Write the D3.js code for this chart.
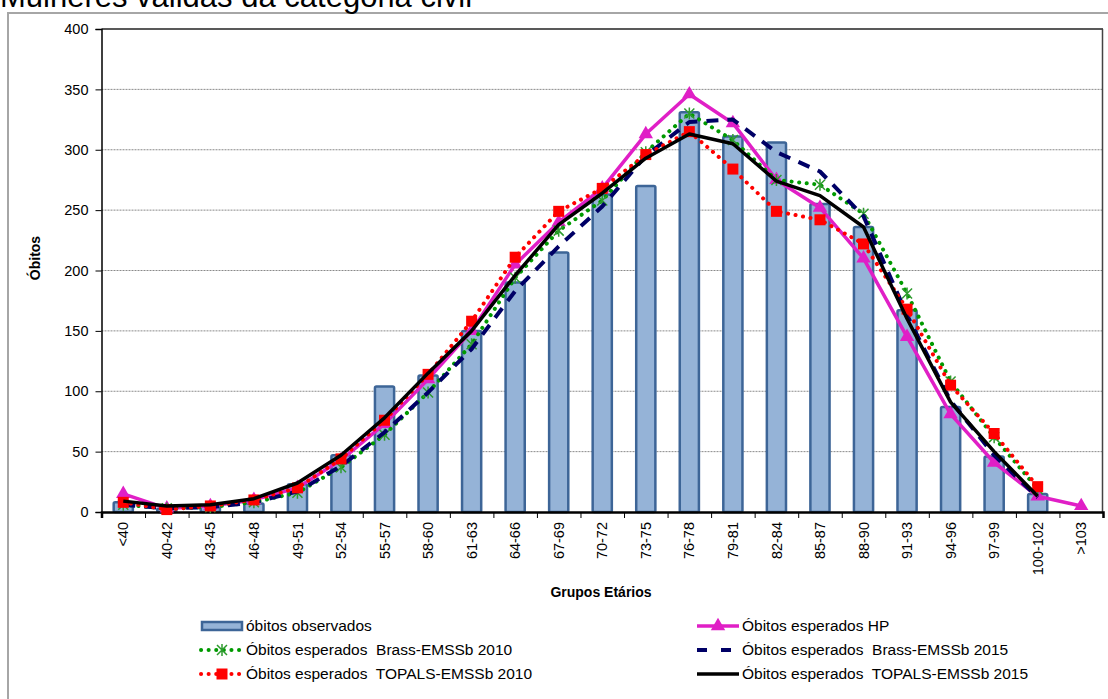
<!DOCTYPE html>
<html lang="pt">
<head>
  <meta charset="UTF-8">
  <title>Óbitos por grupos etários</title>
  <style>
    body { margin: 0; background: #fff; }
    svg { display: block; font-family: "Liberation Sans", Arial, sans-serif; }
    .grid line { stroke: #8a8a8a; stroke-width: 1; stroke-dasharray: 2,1; }
    .axis text { font-size: 14.5px; fill: #000; }
    .axis path, .axis line { stroke: #000; }
    .leg text { font-size: 15.5px; white-space: pre; }
  </style>
</head>
<body>
  <svg width="1108" height="699"></svg>

  <script src="https://d3js.org/d3.v7.min.js"></script>
  <script>
    const categories = ["<40", "40-42", "43-45", "46-48", "49-51", "52-54", "55-57", "58-60",
      "61-63", "64-66", "67-69", "70-72", "73-75", "76-78", "79-81", "82-84", "85-87",
      "88-90", "91-93", "94-96", "97-99", "100-102", ">103"];

    const observados = [8, 3, 5, 7, 23, 47, 104, 113, 150, 190, 215, 263, 270, 331, 311, 306,
      255, 236, 167, 87, 46, 15, null];
    const hp = [15, 3, 5, 10, 20, 43, 73, 110, 150, 205, 240, 268, 313, 346, 322, 275,
      252, 210, 145, 81, 41, 13, 5];
    const brass2010 = [6, 3, 4, 8, 16, 37, 64, 99, 139, 194, 233, 258, 298, 330, 308, 275,
      271, 247, 181, 108, 62, 19];
    const brass2015 = [6, 3, 4, 8, 17, 38, 66, 99, 135, 183, 220, 253, 295, 323, 325, 298,
      282, 245, 163, 92, 47, 12];
    const topals2010 = [8, 2, 5, 10, 20, 44, 76, 114, 158, 211, 249, 268, 296, 315, 284, 249,
      242, 222, 168, 105, 65, 21];
    const topals2015 = [9, 5, 6, 11, 24, 47, 78, 115, 150, 196, 238, 264, 293, 313, 305, 274,
      262, 236, 160, 91, 50, 13];

    const yTicks = [0, 50, 100, 150, 200, 250, 300, 350, 400];

    const svg = d3.select("svg");
    const pLeft = 101.5, pRight = 1103, pTop = 29, pBottom = 512;

    const x = d3.scaleBand().domain(categories).range([pLeft, pRight]);
    const y = d3.scaleLinear().domain([0, 400]).range([pBottom, pTop]);

    // outer frame and title (title is cut by the top edge, as in the source)
    svg.append("rect")
      .attr("x", 8).attr("y", 13).attr("width", 1200).attr("height", 800)
      .attr("fill", "none").attr("stroke", "#a6a6a6").attr("stroke-width", 2);

    svg.append("text")
      .attr("x", 0).attr("y", 7)
      .attr("font-size", 31)
      .text("Mulheres válidas da categoria civil");

    // gridlines
    svg.append("g").attr("class", "grid")
      .selectAll("line")
      .data(yTicks.filter(d => d > 0 && d < 400))
      .enter().append("line")
      .attr("x1", pLeft).attr("x2", pRight)
      .attr("y1", d => y(d)).attr("y2", d => y(d));

    svg.append("line")
      .attr("x1", pLeft).attr("x2", pRight).attr("y1", pTop).attr("y2", pTop)
      .attr("stroke", "#222").attr("stroke-width", 1.5);
    svg.append("line")
      .attr("x1", pRight - 0.5).attr("x2", pRight - 0.5).attr("y1", pTop).attr("y2", pBottom)
      .attr("stroke", "#444").attr("stroke-width", 1.5);

    // bars
    const bw = x.bandwidth() * 0.44;
    svg.append("g")
      .selectAll("rect")
      .data(categories.map((c, i) => ({ c, v: observados[i] })).filter(d => d.v != null))
      .enter().append("rect")
      .attr("x", d => x(d.c) + x.bandwidth() / 2 - bw / 2)
      .attr("y", d => y(d.v))
      .attr("width", bw)
      .attr("height", d => y(0) - y(d.v))
      .attr("rx", 1.5)
      .attr("fill", "#95b3d7")
      .attr("stroke", "#3d6597")
      .attr("stroke-width", 2.5);

    // axes
    svg.append("g")
      .attr("class", "axis")
      .attr("transform", `translate(${pLeft},0)`)
      .call(d3.axisLeft(y).tickValues(yTicks).tickSize(6).tickPadding(7))
      .call(g => g.select(".domain").attr("stroke-width", 1.5));

    const bounds = d3.scaleLinear().domain([0, categories.length]).range([pLeft, pRight]);
    svg.append("g")
      .attr("class", "axis")
      .attr("transform", `translate(0,${pBottom})`)
      .call(d3.axisBottom(bounds).tickValues(d3.range(0, categories.length + 1)).tickSize(6).tickFormat(""))
      .call(g => g.select(".domain").attr("stroke-width", 2.5));

    svg.append("g")
      .attr("class", "axis")
      .attr("transform", `translate(0,${pBottom})`)
      .call(d3.axisBottom(x).tickSize(0))
      .call(g => g.select(".domain").remove())
      .selectAll("text")
      .attr("transform", "rotate(-90)")
      .attr("text-anchor", "end")
      .attr("x", -10)
      .attr("y", 0)
      .attr("dy", "0.35em");

    svg.append("text")
      .attr("transform", "translate(40,258) rotate(-90)")
      .attr("text-anchor", "middle")
      .attr("font-size", 14).attr("font-weight", "bold")
      .text("Óbitos");

    svg.append("text")
      .attr("x", 601).attr("y", 597)
      .attr("text-anchor", "middle")
      .attr("font-size", 14).attr("font-weight", "bold")
      .text("Grupos Etários");

    // series lines
    const cx = c => x(c) + x.bandwidth() / 2;
    const line = d3.line().defined(d => d.v != null).x(d => cx(d.c)).y(d => y(d.v));
    const pts = vals => vals.map((v, i) => ({ c: categories[i], v }));

    const tri = d3.symbol().type(d3.symbolTriangle).size(90);
    const sq = "M-5.5,-5.5H5.5V5.5H-5.5Z";
    const star = "M0,-6V6M-5,-5L5,5M-5,5L5,-5";

    const series = [
      { name: "Óbitos esperados HP", vals: hp, color: "#e01fc6", width: 3.5, dash: null, marker: "tri" },
      { name: "Óbitos esperados  Brass-EMSSb 2010", vals: brass2010, color: "#009a00", width: 4, dash: "0.1,7.5", marker: "star" },
      { name: "Óbitos esperados  Brass-EMSSb 2015", vals: brass2015, color: "#000066", width: 4, dash: "12,9", marker: null },
      { name: "Óbitos esperados  TOPALS-EMSSb 2010", vals: topals2010, color: "#ff0000", width: 4, dash: "0.1,7.5", marker: "sq" },
      { name: "Óbitos esperados  TOPALS-EMSSb 2015", vals: topals2015, color: "#000000", width: 3.5, dash: null, marker: null }
    ];

    function drawMarker(g, s) {
      if (s.marker === "tri") g.append("path").attr("d", tri).attr("fill", s.color);
      if (s.marker === "sq") g.append("path").attr("d", sq).attr("fill", s.color);
      if (s.marker === "star") g.append("path").attr("d", star).attr("fill", "none")
        .attr("stroke", "#2e9b2e").attr("stroke-width", 1.5);
    }

    const dotted = s => s.dash && s.dash.startsWith("0.1");

    series.forEach(s => {
      const g = svg.append("g");
      g.append("path")
        .datum(pts(s.vals))
        .attr("d", line)
        .attr("fill", "none")
        .attr("stroke", s.color)
        .attr("stroke-width", s.width)
        .attr("stroke-linecap", dotted(s) ? "round" : "butt")
        .attr("stroke-linejoin", "round")
        .attr("stroke-dasharray", s.dash);
      if (s.marker) {
        g.selectAll(".m")
          .data(pts(s.vals))
          .enter().append("g")
          .attr("transform", d => `translate(${cx(d.c)},${y(d.v)})`)
          .each(function () { drawMarker(d3.select(this), s); });
      }
    });

    // legend
    const legend = [
      { name: "óbitos observados", bar: true },
      series[0], series[1], series[2], series[3], series[4]
    ];
    const legPos = [[201, 626], [697, 626], [201, 650], [697, 650], [201, 674], [697, 674]];

    legend.forEach((s, i) => {
      const [lx, ly] = legPos[i];
      const g = svg.append("g").attr("class", "leg").attr("transform", `translate(${lx},${ly})`);
      if (s.bar) {
        g.append("rect").attr("x", 1).attr("y", -4).attr("width", 40).attr("height", 8)
          .attr("fill", "#95b3d7").attr("stroke", "#3d6597").attr("stroke-width", 2.5);
      } else {
        g.append("line").attr("x1", 0).attr("x2", 42).attr("y1", 0).attr("y2", 0)
          .attr("stroke", s.color).attr("stroke-width", s.width)
          .attr("stroke-linecap", dotted(s) ? "round" : "butt")
          .attr("stroke-dasharray", s.dash === "12,9" ? "10,14" : s.dash);
        if (s.marker) drawMarker(g.append("g").attr("transform", "translate(21,0)"), s);
      }
      g.append("text").attr("x", 45).attr("dy", "0.35em").text(s.name);
    });
  </script>
</body>
</html>
